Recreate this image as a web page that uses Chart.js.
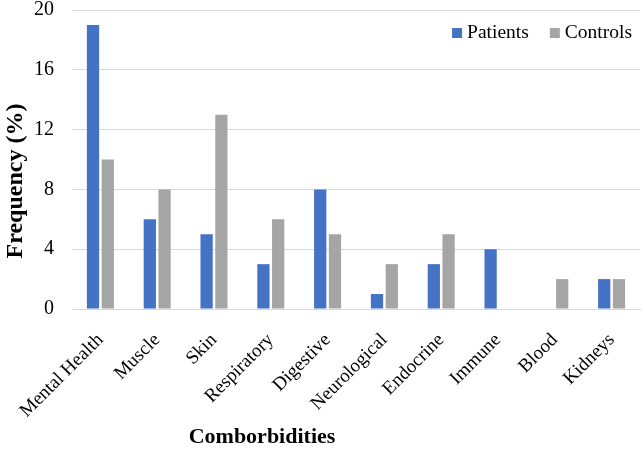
<!DOCTYPE html>
<html>
<head>
<meta charset="utf-8">
<script src="https://cdn.jsdelivr.net/npm/chart.js@4/dist/chart.umd.min.js"></script>
<style>
    html, body { margin: 0; padding: 0; background: #fff; }
    #wrap { width: 644px; height: 452px; }
</style>
</head>
<body>
<div id="wrap"><canvas id="myChart" width="644" height="452"></canvas></div>
<script>
var categories = ["Mental Health", "Muscle", "Skin", "Respiratory", "Digestive", "Neurological", "Endocrine", "Immune", "Blood", "Kidneys"];
var patients = [19, 6, 5, 3, 8, 1, 3, 4, 0, 2];
var controls = [10, 8, 13, 6, 5, 3, 5, 0, 2, 2];
var yTicks = [0, 4, 8, 12, 16, 20];

var xTitle = "Comborbidities";
var yTitle = "Frequency (%)";

var fontFamily = "'Liberation Serif', 'Times New Roman', serif";

// legend inside the plot (top right) + both axis titles, placed like the original
var extras = {
    id: 'extras',
    afterDraw: function (chart) {
        var c = chart.ctx;
        var area = chart.chartArea;
        c.save();
        c.font = "19.5px " + fontFamily;
        c.textBaseline = 'middle';
        var x = area.right - 8;
        var y = area.top + 23;
        var sets = chart.data.datasets.slice().reverse();
        sets.forEach(function (ds) {
            var w = c.measureText(ds.label).width;
            x -= w;
            c.fillStyle = '#000';
            c.fillText(ds.label, x, y);
            x -= 15;
            c.fillStyle = ds.backgroundColor;
            c.fillRect(x, y - 5, 10, 10);
            x -= 21;
        });

        c.fillStyle = '#000';
        c.textAlign = 'center';
        c.font = "bold 22px " + fontFamily;
        c.fillText(xTitle, 262, 437);

        c.translate(16, 181);
        c.rotate(-Math.PI / 2);
        c.font = "bold 24px " + fontFamily;
        c.fillText(yTitle, 0, 0);
        c.restore();
    }
};

window.onload = function () {
    var ctx = document.getElementById("myChart").getContext("2d");
    var myChart = new Chart(ctx, {
        type: 'bar',
        data: {
            labels: categories,
            datasets: [{
                label: "Patients",
                data: patients,
                backgroundColor: "#4472C4",
                barPercentage: 0.83,
                categoryPercentage: 0.52
            }, {
                label: "Controls",
                data: controls,
                backgroundColor: "#A5A5A5",
                barPercentage: 0.83,
                categoryPercentage: 0.52
            }]
        },
        options: {
            responsive: false,
            animation: false,
            layout: { padding: { top: 0, right: 4, left: 0, bottom: 0 } },
            plugins: {
                legend: { display: false },
                tooltip: { enabled: false }
            },
            scales: {
                x: {
                    grid: { display: false },
                    border: { color: '#d9d9d9', width: 1 },
                    afterFit: function (axis) {
                        axis.height = 143;
                        axis.paddingRight = 0;
                    },
                    ticks: {
                        color: '#000',
                        maxRotation: 45,
                        minRotation: 45,
                        padding: 12,
                        font: { family: fontFamily, size: 19 }
                    }
                },
                y: {
                    min: 0,
                    max: 20,
                    afterFit: function (axis) {
                        axis.width = 72;
                        axis.paddingTop = 10;
                        axis.paddingBottom = 0;
                    },
                    afterBuildTicks: function (axis) {
                        axis.ticks = yTicks.map(function (v) { return { value: v }; });
                    },
                    grid: { color: '#d9d9d9', drawTicks: false },
                    border: { display: false },
                    ticks: {
                        color: '#000',
                        padding: 18,
                        font: { family: fontFamily, size: 20 }
                    }
                }
            }
        },
        plugins: [extras]
    });
};
</script>
</body>
</html>
